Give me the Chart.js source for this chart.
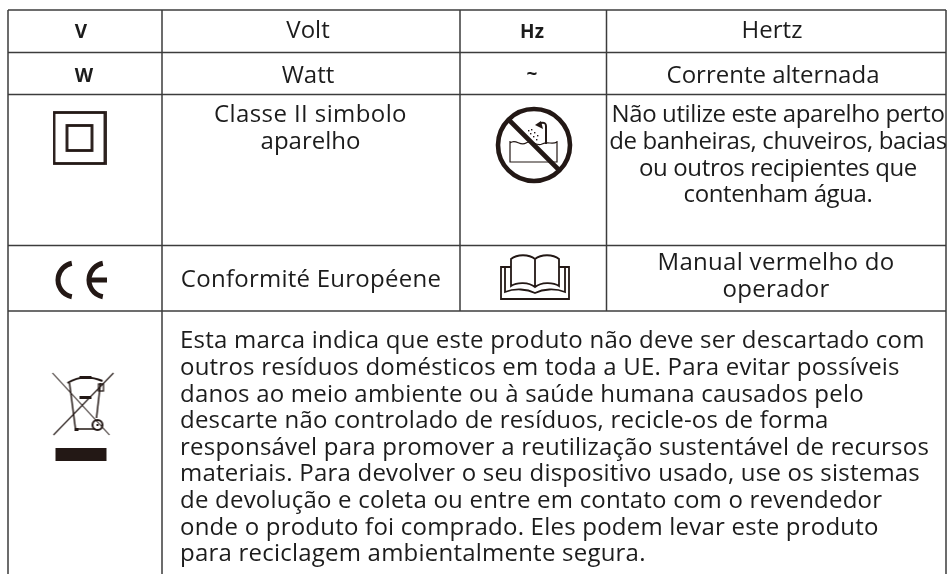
<!DOCTYPE html>
<html>
<head>
<meta charset="utf-8">
<title>Simbolos</title>
<script src="https://cdn.jsdelivr.net/npm/chart.js@4"></script>
<style>
  html, body { margin: 0; padding: 0; background: #fff; }
  canvas { display: block; }
</style>
</head>
<body>
<canvas id="tabela" width="947" height="574"></canvas>
<script>
// ------------------------------------------------------
// Textos da tabela
// ------------------------------------------------------
const simbolos = ["V", "W", "Hz", "~"];
const nomes = ["Volt", "Watt", "Hertz", "Corrente alternada", "Conformité Européene"];
const classeII = ["Classe II simbolo", "aparelho"];
const avisoAgua = [
  "Não utilize este aparelho perto",
  "de banheiras, chuveiros, bacias",
  "ou outros recipientes que",
  "contenham água.",
];
const manual = ["Manual vermelho do", "operador"];
const descarte = [
  "Esta marca indica que este produto não deve ser descartado com",
  "outros resíduos domésticos em toda a UE. Para evitar possíveis",
  "danos ao meio ambiente ou à saúde humana causados pelo",
  "descarte não controlado de resíduos, recicle-os de forma",
  "responsável para promover a reutilização sustentável de recursos",
  "materiais. Para devolver o seu dispositivo usado, use os sistemas",
  "de devolução e coleta ou entre em contato com o revendedor",
  "onde o produto foi comprado. Eles podem levar este produto",
  "para reciclagem ambientalmente segura.",
];

// ------------------------------------------------------
// Grade: bordas das colunas e linhas, em px do quadro
// ------------------------------------------------------
const colunas = [8, 162, 460, 606.5, 946];
const linhas = [10, 52.5, 94.5, 245.5, 311];
const FIM = 574;
const COR_GRADE = "#3c3c3c";
const COR_TEXTO = "#1c1c1c";
const FONTE = '"Open Sans", sans-serif';

function segmento(x1, y1, x2, y2) {
  return {
    type: "line",
    data: [{ x: x1, y: y1 }, { x: x2, y: y2 }],
    borderColor: COR_GRADE,
    borderWidth: 1.5,
    pointRadius: 0,
    clip: false,
  };
}

const grade = [
  ...linhas.map((y) => segmento(colunas[0], y, colunas[4], y)),
  segmento(colunas[0], linhas[0], colunas[0], FIM),
  segmento(colunas[1], linhas[0], colunas[1], FIM),
  segmento(colunas[2], linhas[0], colunas[2], linhas[4]),
  segmento(colunas[3], linhas[0], colunas[3], linhas[4]),
  segmento(colunas[4], linhas[0], colunas[4], FIM),
];

// ------------------------------------------------------
// Icones: cada um vira o pointStyle de um ponto
// ------------------------------------------------------
function novoIcone(w, h, desenha) {
  const c = document.createElement("canvas");
  c.width = w;
  c.height = h;
  const g = c.getContext("2d");
  g.strokeStyle = "#231815";
  g.fillStyle = "#231815";
  desenha(g);
  return c;
}

const iconeClasseII = novoIcone(54, 54, (g) => {
  g.lineWidth = 2.8;
  g.strokeRect(1.5, 1.5, 51, 51);
  g.strokeRect(14.5, 14.5, 25, 25);
});

const iconeCE = novoIcone(56, 40, (g) => {
  g.lineWidth = 5;
  g.beginPath();
  g.arc(21, 20, 17, Math.PI * 0.56, Math.PI * 1.44);
  g.stroke();
  g.beginPath();
  g.arc(52, 20, 17, Math.PI * 0.56, Math.PI * 1.44);
  g.stroke();
  g.fillRect(36, 17.5, 17, 5);
});

const iconeAgua = novoIcone(80, 80, (g) => {
  g.lineWidth = 4.6;
  g.beginPath();
  g.arc(40, 40, 36, 0, Math.PI * 2);
  g.stroke();
  g.beginPath();
  g.moveTo(14, 14);
  g.lineTo(66, 66);
  g.stroke();
  // banheira
  g.lineWidth = 1.2;
  g.beginPath();
  g.moveTo(16, 36);
  g.lineTo(16, 57);
  g.lineTo(63, 57);
  g.lineTo(63, 36);
  g.moveTo(16, 38);
  g.bezierCurveTo(22, 33, 26, 42, 32, 38);
  g.bezierCurveTo(38, 34, 42, 42, 48, 39);
  g.bezierCurveTo(54, 36, 58, 40, 63, 37);
  g.stroke();
  // chuveiro
  g.lineWidth = 2;
  g.beginPath();
  g.moveTo(52, 39);
  g.lineTo(52, 21);
  g.quadraticCurveTo(52, 17, 47, 18);
  g.stroke();
  g.beginPath();
  g.moveTo(41, 20);
  g.lineTo(47, 16);
  g.lineTo(49, 24);
  g.closePath();
  g.fill();
  [[37, 24], [40, 27], [43, 30], [36, 28], [39, 31], [42, 34], [34, 25]].forEach(([x, y]) => {
    g.fillRect(x, y, 1.4, 1.4);
  });
});

const iconeLivro = novoIcone(72, 48, (g) => {
  g.lineWidth = 1.8;
  g.beginPath();
  g.moveTo(36, 6);
  g.bezierCurveTo(30, 1, 18, 1, 12, 6);
  g.lineTo(12, 33);
  g.bezierCurveTo(18, 29, 30, 29, 36, 34);
  g.bezierCurveTo(42, 29, 54, 29, 60, 33);
  g.lineTo(60, 6);
  g.bezierCurveTo(54, 1, 42, 1, 36, 6);
  g.lineTo(36, 34);
  g.stroke();
  g.beginPath();
  g.moveTo(12, 14);
  g.lineTo(2, 14);
  g.lineTo(2, 46);
  g.lineTo(70, 46);
  g.lineTo(70, 14);
  g.lineTo(60, 14);
  g.moveTo(6, 14);
  g.lineTo(6, 39);
  g.bezierCurveTo(16, 35, 28, 36, 36, 40);
  g.bezierCurveTo(44, 36, 56, 35, 66, 39);
  g.lineTo(66, 14);
  g.stroke();
});

const iconeLixo = novoIcone(66, 94, (g) => {
  g.lineWidth = 1.1;
  g.beginPath();
  g.moveTo(2, 1);
  g.lineTo(59, 63);
  g.moveTo(63, 1);
  g.lineTo(3, 63);
  g.stroke();
  // lixeira
  g.lineWidth = 1.5;
  g.beginPath();
  g.moveTo(19, 11);
  g.lineTo(25, 57);
  g.lineTo(45, 57);
  g.moveTo(50, 11);
  g.lineTo(46, 46);
  g.stroke();
  g.lineWidth = 2;
  g.beginPath();
  g.moveTo(17, 11);
  g.quadraticCurveTo(33, 1, 52, 9);
  g.stroke();
  g.fillRect(29, 4, 12, 3);
  g.fillRect(29, 24, 12, 3);
  g.fillRect(24, 56, 4, 3);
  g.lineWidth = 1.3;
  g.strokeRect(48, 12, 5, 7);
  g.lineWidth = 2;
  g.beginPath();
  g.arc(47, 53, 5, 0, Math.PI * 2);
  g.stroke();
  g.fillRect(46, 52, 2, 2);
  // barra
  g.fillRect(5, 76, 51, 13);
});

function icone(x, y, imagem) {
  return {
    type: "scatter",
    data: [{ x, y }],
    pointStyle: imagem,
    pointRadius: 1,
    clip: false,
  };
}

const pontosIcones = [
  icone(79.5, 138, iconeClasseII),
  icone(82, 280, iconeCE),
  icone(534, 145, iconeAgua),
  icone(535, 277, iconeLivro),
  icone(83.5, 419, iconeLixo),
];

// ------------------------------------------------------
// Textos: plugin escreve nas escalas do grafico
// ------------------------------------------------------
const textos = [
  { t: simbolos[0], x: 81, y: 38, bold: 19 },
  { t: simbolos[1], x: 84, y: 82, bold: 19 },
  { t: simbolos[2], x: 532, y: 38, bold: 19 },
  { t: simbolos[3], x: 532, y: 80, bold: 19 },
  { t: nomes[0], x: 308, y: 38 },
  { t: nomes[1], x: 308, y: 83 },
  { t: nomes[2], x: 772, y: 38 },
  { t: nomes[3], x: 773, y: 83 },
  { t: nomes[4], x: 311, y: 287, ls: "0.25px" },
  ...classeII.map((t, i) => ({ t, x: 310.5, y: 122 + i * 27, ls: i ? "0px" : "0.4px" })),
  ...avisoAgua.map((t, i) => ({ t, x: 778, y: 122 + i * 26.8, ls: "-0.38px" })),
  ...manual.map((t, i) => ({ t, x: 776, y: 270 + i * 27, ls: "0.3px" })),
  ...descarte.map((t, i) => ({ t, x: 180, y: 348.3 + i * 26.6, left: true, ls: "0.22px" })),
];

const pluginTextos = {
  id: "textos",
  afterDatasetsDraw(chart) {
    const { ctx, scales } = chart;
    ctx.save();
    ctx.fillStyle = COR_TEXTO;
    ctx.textBaseline = "alphabetic";
    textos.forEach((o) => {
      ctx.font = o.bold ? `700 ${o.bold}px ${FONTE}` : `24px ${FONTE}`;
      ctx.letterSpacing = o.ls || "0px";
      ctx.textAlign = o.left ? "left" : "center";
      ctx.fillText(o.t, scales.x.getPixelForValue(o.x), scales.y.getPixelForValue(o.y));
    });
    ctx.restore();
  },
};

new Chart(document.getElementById("tabela"), {
  data: { datasets: [...grade, ...pontosIcones] },
  options: {
    responsive: false,
    animation: false,
    events: [],
    layout: { padding: 0, autoPadding: false },
    plugins: { legend: { display: false }, tooltip: { enabled: false } },
    scales: {
      x: { type: "linear", min: 0, max: 947, display: false },
      y: { type: "linear", min: 0, max: 574, reverse: true, display: false },
    },
  },
  plugins: [pluginTextos],
});
</script>
</body>
</html>
